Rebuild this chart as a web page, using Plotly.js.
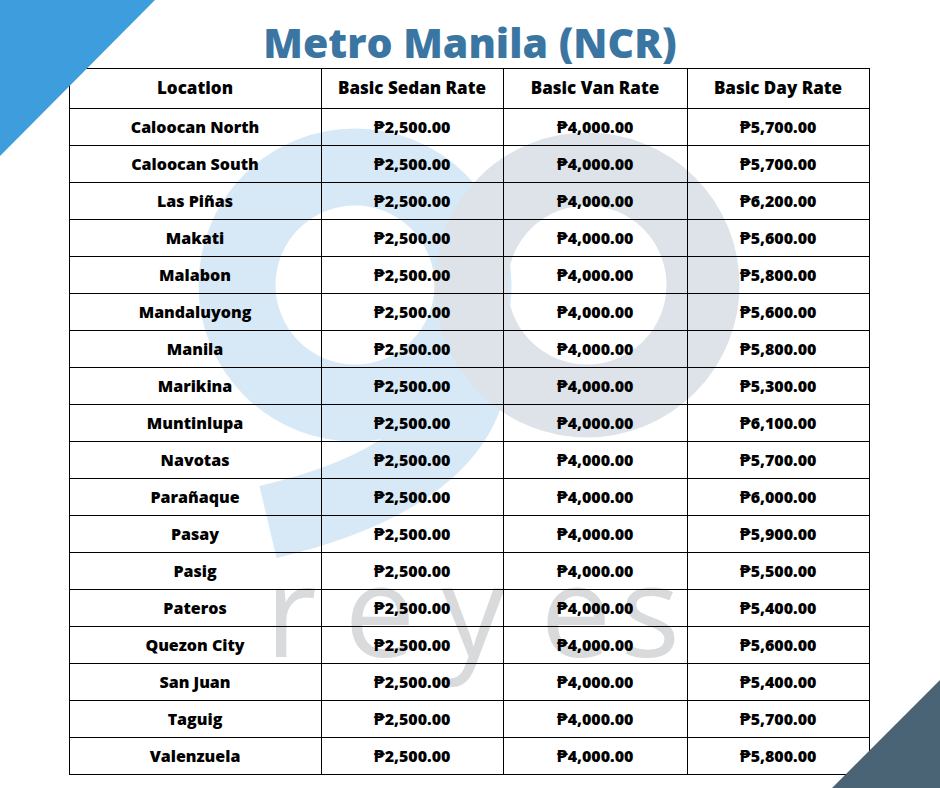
<!DOCTYPE html>
<html>
<head>
<meta charset="utf-8">
<script src="https://cdn.plot.ly/plotly-3.0.1.min.js"></script>
<style>
  html, body { margin: 0; padding: 0; background: #ffffff; }
  #the_chart { width: 940px; height: 788px; }
</style>
</head>
<body>
<div id="the_chart"></div>
<script>
// table data
var locations = ["Caloocan North", "Caloocan South", "Las Piñas", "Makati", "Malabon",
  "Mandaluyong", "Manila", "Marikina", "Muntinlupa", "Navotas", "Parañaque", "Pasay",
  "Pasig", "Pateros", "Quezon City", "San Juan", "Taguig", "Valenzuela"];
var sedan_rate = [2500, 2500, 2500, 2500, 2500, 2500, 2500, 2500, 2500,
  2500, 2500, 2500, 2500, 2500, 2500, 2500, 2500, 2500];
var van_rate = [4000, 4000, 4000, 4000, 4000, 4000, 4000, 4000, 4000,
  4000, 4000, 4000, 4000, 4000, 4000, 4000, 4000, 4000];
var day_rate = [5700, 5700, 6200, 5600, 5800, 5600, 5800, 5300, 6100,
  5700, 6000, 5900, 5500, 5400, 5600, 5400, 5700, 5800];
var headers = ["Location", "Basic Sedan Rate", "Basic Van Rate", "Basic Day Rate"];

// watermark word
var mark_letters = ["r", "e", "y", "e", "s"];

var W = 940, H = 788;
var FONT = "Open Sans, DejaVu Sans, sans-serif";
var col_w = [252, 182, 184, 182];

function peso(v) {
  return "₱" + v.toLocaleString("en-US", {minimumFractionDigits: 2, maximumFractionDigits: 2});
}

function blank(arr) {
  return arr.map(function () { return ""; });
}

function setup() {
  // grid only (the table text in plotly sits near the top of the cell,
  // so the text is a second table shifted down a few px)
  var grid = {
    type: "table",
    domain: {x: [69 / W, 870 / W], y: [1 - 777 / H, 1 - 68 / H]},
    columnwidth: col_w,
    header: {
      values: blank(headers),
      height: 40,
      fill: {color: "rgba(0,0,0,0)"},
      line: {color: "#000000", width: 1}
    },
    cells: {
      values: [blank(locations), blank(locations), blank(locations), blank(locations)],
      height: 37,
      fill: {color: "rgba(0,0,0,0)"},
      line: {color: "#000000", width: 1}
    }
  };

  var shift = 5;
  var table = {
    type: "table",
    domain: {x: [69 / W, 870 / W], y: [1 - (777 + shift) / H, 1 - (68 + shift) / H]},
    columnwidth: col_w,
    header: {
      values: headers,
      align: "center",
      height: 40,
      fill: {color: "rgba(0,0,0,0)"},
      line: {color: "rgba(0,0,0,0)", width: 0},
      font: {family: FONT, size: 17, color: "#000000", weight: 800}
    },
    cells: {
      values: [locations, sedan_rate.map(peso), van_rate.map(peso), day_rate.map(peso)],
      align: "center",
      height: 37,
      fill: {color: "rgba(0,0,0,0)"},
      line: {color: "rgba(0,0,0,0)", width: 0},
      font: {family: FONT, size: 16, color: "#000000", weight: 800}
    }
  };

  var mark = {
    type: "scatter",
    mode: "text",
    x: [291, 380, 473, 576, 650],
    y: [625, 625, 625, 625, 625],
    text: mark_letters,
    textposition: "middle center",
    textfont: {family: "Open Sans, Lato, sans-serif", size: 126, color: "#d8dadc", weight: 500},
    hoverinfo: "skip",
    showlegend: false
  };

  var layout = {
    width: W,
    height: H,
    margin: {l: 0, r: 0, t: 0, b: 0},
    paper_bgcolor: "#ffffff",
    plot_bgcolor: "rgba(0,0,0,0)",
    showlegend: false,
    title: {
      text: "Metro Manila (NCR)",
      x: 0.5, xanchor: "center",
      y: 1 - 44 / H, yanchor: "middle", yref: "container",
      font: {family: FONT, size: 41, color: "#3b76a2", weight: 800}
    },
    xaxis: {range: [0, W], visible: false, fixedrange: true},
    yaxis: {range: [H, 0], visible: false, fixedrange: true},
    shapes: [
      // light blue "g" bowl
      {type: "circle", xref: "x", yref: "y", layer: "below",
        x0: 355 - 118, x1: 355 + 118, y0: 285 - 118, y1: 285 + 118,
        line: {color: "#d7e9f6", width: 77}},
      // "g" tail
      {type: "path", xref: "x", yref: "y", layer: "below",
        path: "M 473,290 L 473,360 Q 466,475 268,522",
        line: {color: "#d7e9f6", width: 74}},
      // grey "o"
      {type: "circle", xref: "x", yref: "y", layer: "below",
        x0: 587 - 116, x1: 587 + 116, y0: 285 - 116, y1: 285 + 116,
        line: {color: "#dde3e8", width: 73}},
      // corner triangles
      {type: "path", xref: "x", yref: "y", layer: "above",
        path: "M 0,0 L 155,0 L 0,156 Z",
        fillcolor: "#3e9ddc", line: {width: 0}},
      {type: "path", xref: "x", yref: "y", layer: "above",
        path: "M 832,788 L 940,680 L 940,788 Z",
        fillcolor: "#4a6476", line: {width: 0}}
    ]
  };

  Plotly.newPlot("the_chart", [mark, grid, table], layout, {displayModeBar: false, staticPlot: true});
}

window.addEventListener("load", setup);
</script>
</body>
</html>
